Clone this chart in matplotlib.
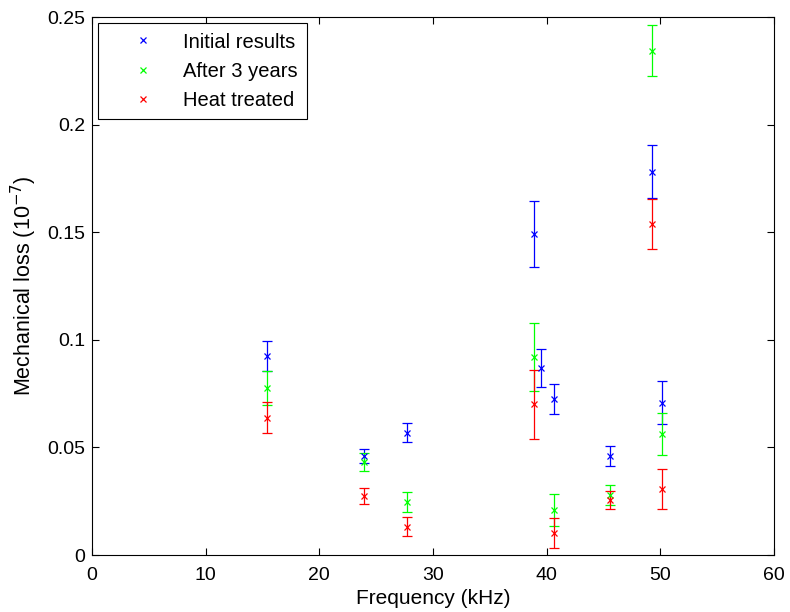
import matplotlib.pyplot as plt

plt.rcParams['font.family'] = ['Liberation Sans', 'DejaVu Sans']

freq = [15.4, 23.9, 27.7, 38.9, 39.5, 40.6, 45.6, 49.3, 50.1]

initial = [0.0926, 0.0460, 0.0569, 0.1493, 0.0868, 0.0724, 0.0460, 0.1780, 0.0708]
initial_err = [0.0070, 0.0033, 0.0043, 0.0153, 0.0088, 0.0069, 0.0045, 0.0123, 0.0100]

freq_3y = [15.4, 23.9, 27.7, 38.9, 40.6, 45.6, 49.3, 50.1]
after3 = [0.0777, 0.0434, 0.0247, 0.0922, 0.0209, 0.0279, 0.2344, 0.0563]
after3_err = [0.0078, 0.0042, 0.0045, 0.0158, 0.0074, 0.0045, 0.0117, 0.0098]

freq_ht = [15.4, 23.9, 27.7, 38.9, 40.6, 45.6, 49.3, 50.1]
heat = [0.0637, 0.0274, 0.0132, 0.0701, 0.0101, 0.0256, 0.1538, 0.0306]
heat_err = [0.0072, 0.0037, 0.0043, 0.0160, 0.0070, 0.0043, 0.0117, 0.0094]

fig = plt.figure(figsize=(7.9, 6.12), dpi=100)
ax = fig.add_axes([0.1165, 0.0931, 0.8633, 0.8791])

series = [
    (freq, initial, initial_err, "#0000ff", "Initial results"),
    (freq_3y, after3, after3_err, "#00ff00", "After 3 years"),
    (freq_ht, heat, heat_err, "#ff0000", "Heat treated"),
]
for x, y, e, c, lab in series:
    ax.errorbar(x, y, yerr=e, fmt="x", color=c, ecolor=c, elinewidth=0.9,
                capsize=3.5, capthick=0.9, markersize=5, markeredgewidth=0.9,
                label=lab)

ax.set_xlim(0, 60)
ax.set_ylim(0, 0.25)
ax.set_xticks([0, 10, 20, 30, 40, 50, 60])
ax.set_yticks([0, 0.05, 0.1, 0.15, 0.2, 0.25])
ax.set_yticklabels(["0", "0.05", "0.1", "0.15", "0.2", "0.25"])
ax.tick_params(direction="in", top=True, right=True, length=5, labelsize=14, pad=5)
ax.tick_params(axis="x", pad=8.5)
for s in ax.spines.values():
    s.set_linewidth(0.8)
ax.set_xlabel("Frequency (kHz)", fontsize=15, labelpad=4)
ax.set_ylabel("Mechanical loss (10$^{-7}$)", fontsize=15.5, labelpad=6)

handles, labels = ax.get_legend_handles_labels()
handles = [h[0] for h in handles]
leg = ax.legend(handles, labels, loc="upper left", fontsize=14.5, numpoints=1,
                handlelength=3.5, handletextpad=0.25, borderaxespad=0.32,
                fancybox=False, edgecolor="black", framealpha=1,
                borderpad=0.45, labelspacing=0.5)
leg.get_frame().set_linewidth(0.8)

fig.savefig("out.png", dpi=100)
